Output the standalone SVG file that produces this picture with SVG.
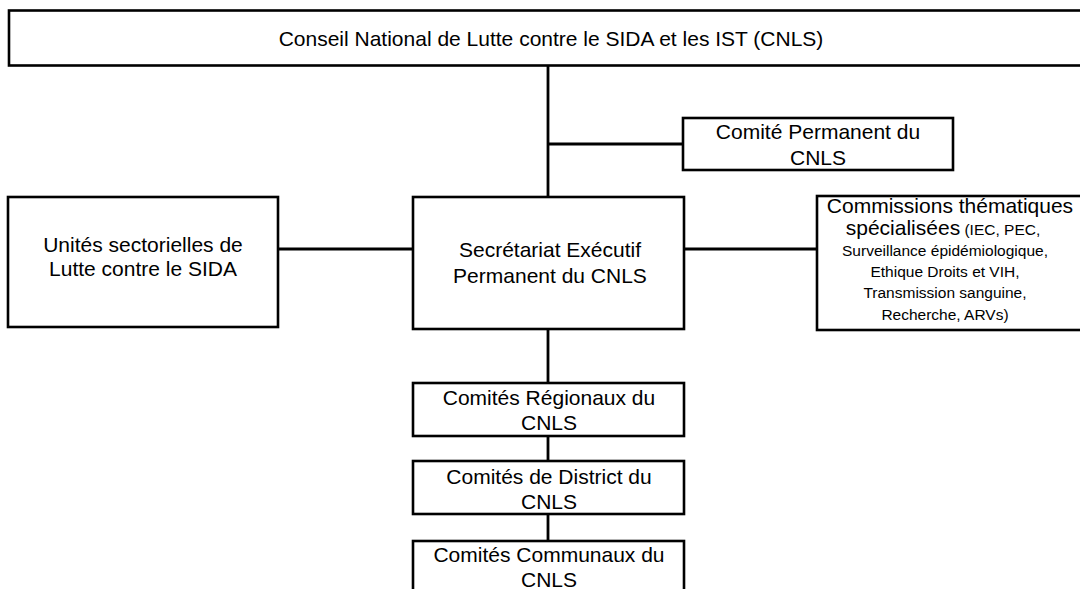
<svg xmlns="http://www.w3.org/2000/svg" width="1080" height="589" viewBox="0 0 1080 589">
<style>
.box{fill:#fff;stroke:#000;stroke-width:2.6}
.ln{stroke:#000;stroke-width:2.8;fill:none}
text{font-family:"Liberation Sans",Arial,sans-serif;font-size:21px;fill:#000;text-anchor:middle}
.sm{font-size:15.5px}
</style>
<rect width="1080" height="589" fill="#fff"/>
<g id="connectors">
<line class="ln" x1="548" y1="65" x2="548" y2="197"/>
<line class="ln" x1="548" y1="144" x2="683" y2="144"/>
<line class="ln" x1="278" y1="249" x2="413" y2="249"/>
<line class="ln" x1="684" y1="249" x2="817" y2="249"/>
<line class="ln" x1="548" y1="329" x2="548" y2="383"/>
<line class="ln" x1="548" y1="436" x2="548" y2="461"/>
<line class="ln" x1="548" y1="514" x2="548" y2="541"/>
</g>
<g id="cnls">
<rect class="box" x="9" y="10.5" width="1100" height="55"/>
<text x="551" y="46">Conseil National de Lutte contre le SIDA et les IST (CNLS)</text>
</g>
<g id="comite-permanent">
<rect class="box" x="683" y="118" width="270" height="52"/>
<text x="818" y="139">Comité Permanent du</text>
<text x="818" y="165">CNLS</text>
</g>
<g id="unites">
<rect class="box" x="8" y="197" width="270" height="130"/>
<text x="143" y="252">Unités sectorielles de</text>
<text x="143" y="276">Lutte contre le SIDA</text>
</g>
<g id="secretariat">
<rect class="box" x="413" y="197" width="271" height="132"/>
<text x="550" y="257">Secrétariat Exécutif</text>
<text x="550" y="283">Permanent du CNLS</text>
</g>
<g id="commissions">
<rect class="box" x="817" y="196" width="300" height="134"/>
<text x="950" y="213">Commissions thématiques</text>
<text x="943" y="235">spécialisées<tspan class="sm"> (IEC, PEC,</tspan></text>
<text class="sm" x="945" y="256">Surveillance épidémiologique,</text>
<text class="sm" x="945" y="277">Ethique Droits et VIH,</text>
<text class="sm" x="945" y="298">Transmission sanguine,</text>
<text class="sm" x="945" y="320">Recherche, ARVs)</text>
</g>
<g id="regionaux">
<rect class="box" x="413" y="383" width="271" height="53"/>
<text x="549" y="405">Comités Régionaux du</text>
<text x="549" y="430">CNLS</text>
</g>
<g id="district">
<rect class="box" x="413" y="461" width="271" height="53"/>
<text x="549" y="484">Comités de District du</text>
<text x="549" y="509">CNLS</text>
</g>
<g id="communaux">
<rect class="box" x="413" y="541" width="271" height="70"/>
<text x="549" y="562">Comités Communaux du</text>
<text x="549" y="587">CNLS</text>
</g>
</svg>
